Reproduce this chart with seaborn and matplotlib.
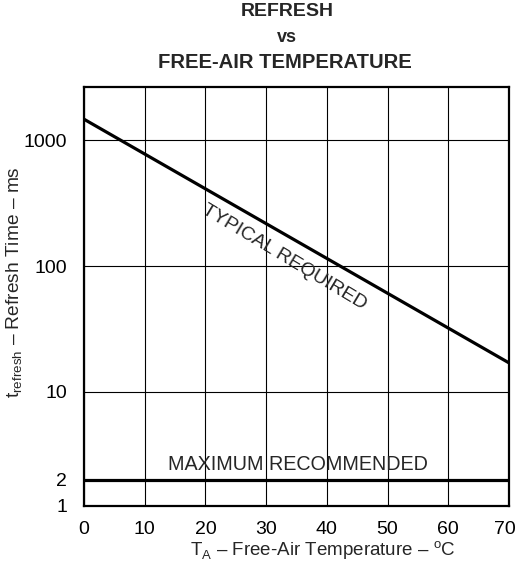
import numpy as np
import pandas as pd
import matplotlib
matplotlib.use("Agg")
import matplotlib.pyplot as plt
import matplotlib.transforms as mtransforms
import seaborn as sns

# Refresh time vs free-air temperature
temperature_c = [0, 70]
typical_required_ms = [1470, 17]
maximum_recommended_ms = [2, 2]

x_ticks = [0, 10, 20, 30, 40, 50, 60, 70]
y_ticks = [1, 2, 10, 100, 1000]
y_tick_labels = ["1", "2", "10", "100", "1000"]

sns.set_style("white")
plt.rcParams["font.family"] = ["Liberation Sans", "DejaVu Sans"]
plt.rcParams["mathtext.fontset"] = "custom"
plt.rcParams["mathtext.rm"] = "Liberation Sans"

# log axis above 2 ms, compressed linear segment between 1 and 2 ms
LOG2 = np.log10(2.0)
K = 0.208


def fwd(y):
    y = np.asarray(y, dtype=float)
    with np.errstate(divide="ignore", invalid="ignore"):
        lg = np.log10(np.maximum(y, 2.0))
    return np.where(y >= 2.0, lg, LOG2 - (2.0 - y) * K)


def inv(u):
    u = np.asarray(u, dtype=float)
    return np.where(u >= LOG2, 10.0 ** np.maximum(u, LOG2), 2.0 - (LOG2 - u) / K)


df = pd.DataFrame({
    "temp": temperature_c * 2,
    "ms": typical_required_ms + maximum_recommended_ms,
    "curve": ["typical"] * 2 + ["maximum"] * 2,
})

fig = plt.figure(figsize=(5.17, 5.64), dpi=100)
ax = fig.add_axes([84 / 517, 1 - 506 / 564, 425 / 517, 419 / 564])
ax.set_yscale("function", functions=(fwd, inv))

sns.lineplot(data=df, x="temp", y="ms", units="curve", estimator=None,
             color="black", linewidth=2.3, ax=ax, legend=False, zorder=3)

ax.set_xlim(0, 70)
ax.set_ylim(1, 2650)
ax.set_xticks(x_ticks)
ax.set_yticks(y_ticks)
ax.set_yticklabels(y_tick_labels)
ax.minorticks_off()
ax.tick_params(axis="both", length=0, labelsize=14, colors="black")
ax.tick_params(axis="x", pad=11)
ax.tick_params(axis="y", pad=12)

# keep the last x label inside the figure
last = ax.get_xticklabels()[-1]
last.set_horizontalalignment("right")
last.set_transform(last.get_transform() +
                   mtransforms.ScaledTranslation(7 / 100, 0, fig.dpi_scale_trans))

ax.grid(True, color="black", linewidth=0.8)
for s in ax.spines.values():
    s.set_color("black")
    s.set_linewidth(1.6)

ax.set_xlabel("")
ax.set_ylabel("")

fig.text(15 / 517, 1 - 282 / 564,
         r"t$_{\mathregular{refresh}}$ – Refresh Time – ms",
         rotation=90, ha="center", va="center", fontsize=13.8)

fig.text(323 / 517, 1 - 551 / 564,
         r"T$_{\mathregular{A}}$ – Free-Air Temperature – $^{\mathregular{o}}$C",
         ha="center", va="center", fontsize=13.5)

ax.text(33.0, 118, "TYPICAL REQUIRED", rotation=-31, rotation_mode="anchor",
        ha="center", va="center", fontsize=14)
ax.text(35.3, 2.64, "MAXIMUM RECOMMENDED", ha="center", va="center",
        fontsize=14.2)

fig.text(287 / 517, 1 - 12 / 564, "REFRESH", ha="center", va="center",
         fontsize=14, fontweight="bold")
fig.text(287 / 517, 1 - 38 / 564, "vs", ha="center", va="center",
         fontsize=13, fontweight="bold")
fig.text(285 / 517, 1 - 62 / 564, "FREE-AIR TEMPERATURE", ha="center",
         va="center", fontsize=14.6, fontweight="bold")

fig.savefig("out.png", dpi=100, facecolor="white")
